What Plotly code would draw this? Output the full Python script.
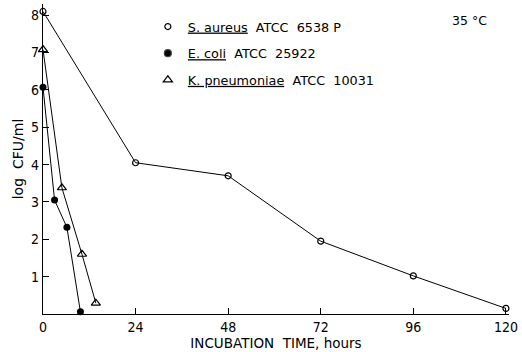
import plotly.graph_objects as go

# Data
sa_time = [0, 24, 48, 72, 96, 120]
sa_log = [8.1, 4.05, 3.7, 1.95, 1.02, 0.15]
ec_time = [0, 3, 6.2, 9.7]
ec_log = [6.07, 3.05, 2.32, 0.06]
kp_time = [0, 4.9, 10.1, 13.7]
kp_log = [7.08, 3.38, 1.6, 0.29]

x_ticks = [0, 24, 48, 72, 96, 120]
y_ticks = [1, 2, 3, 4, 5, 6, 7, 8]

legend_names = [
    "<u>S. aureus</u>  ATCC  6538 P",
    "<u>E. coli</u>  ATCC  25922",
    "<u>K. pneumoniae</u>  ATCC  10031",
]

FONT = "DejaVu Sans, sans-serif"
TICKFONT = "Liberation Sans Narrow, DejaVu Sans Condensed, sans-serif"

fig = go.Figure()
line = dict(color="black", width=1)
fig.add_trace(go.Scatter(x=sa_time, y=sa_log, mode="lines+markers", line=line,
                         marker=dict(symbol="circle-open", size=6, color="black", line=dict(width=1.2)),
                         showlegend=False, cliponaxis=False))
fig.add_trace(go.Scatter(x=ec_time, y=ec_log, mode="lines+markers", line=line,
                         marker=dict(symbol="circle", size=7, color="black"),
                         showlegend=False, cliponaxis=False))
fig.add_trace(go.Scatter(x=kp_time, y=kp_log, mode="lines+markers", line=line,
                         marker=dict(symbol="triangle-up-open", size=8, color="black", line=dict(width=1.2)),
                         showlegend=False, cliponaxis=False))

# legend-only traces
symbols = [("circle-open", 6), ("circle", 7), ("triangle-up-open", 8)]
for i, (name, (sym, sz)) in enumerate(zip(legend_names, symbols)):
    fig.add_trace(go.Scatter(x=[None], y=[None], mode="markers", name=name, legendgroup=f"g{i}",
                             marker=dict(symbol=sym, size=sz, color="black", line=dict(width=1.2))))

fig.add_annotation(x=0.915, y=0.978, xref="paper", yref="paper", xanchor="center",
                   text="35 °C", showarrow=False,
                   font=dict(size=12.5, family=FONT, color="black"))

fig.update_layout(
    width=522, height=352,
    margin=dict(l=42.5, r=10, t=4, b=37),
    paper_bgcolor="white", plot_bgcolor="white",
    font=dict(family=FONT, size=14, color="black"),
    legend=dict(x=0.225, y=0.975, xanchor="left", yanchor="top", bgcolor="rgba(0,0,0,0)",
                font=dict(size=12.8, family=FONT), itemwidth=30, tracegroupgap=7),
    xaxis=dict(range=[0, 120.8], tickvals=x_ticks, ticktext=[str(v) for v in x_ticks],
               ticks="inside", ticklen=6, tickcolor="black", showline=True, linecolor="black",
               linewidth=1.2, showgrid=False, zeroline=False, mirror=False,
               tickfont=dict(size=14, family=TICKFONT), ticklabeloverflow="allow",
               title=dict(text="INCUBATION  TIME, hours", font=dict(size=13.5, family=FONT), standoff=4)),
    yaxis=dict(range=[0, 8.3], tickvals=y_ticks, ticktext=[str(v) for v in y_ticks],
               ticks="inside", ticklen=6, tickcolor="black", showline=True, linecolor="black",
               linewidth=1.2, showgrid=False, zeroline=False,
               tickfont=dict(size=14, family=TICKFONT),
               title=dict(text="log  CFU/ml", font=dict(size=14, family=FONT), standoff=4)),
)

fig.write_html("out.html", config={"displayModeBar": False},
               post_script="document.body.style.margin='0';")
